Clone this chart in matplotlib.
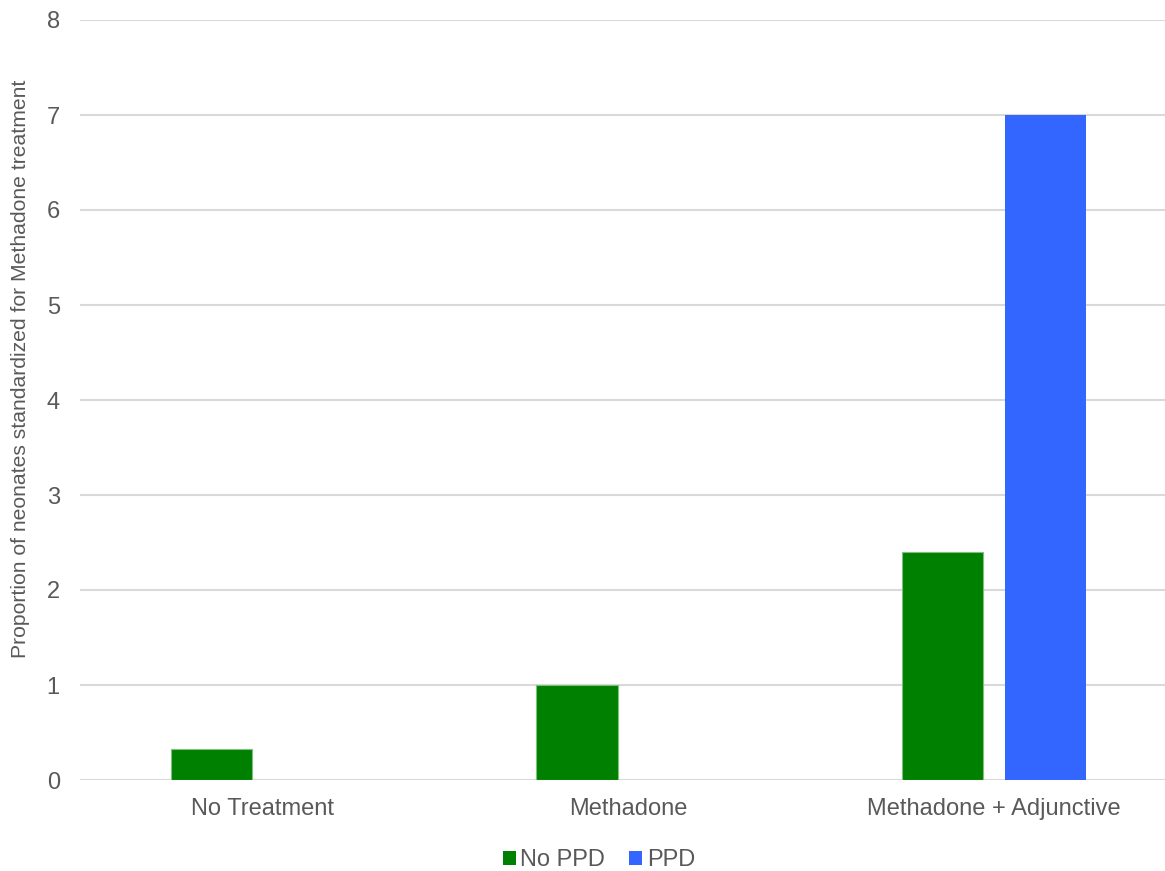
import matplotlib.pyplot as plt
import numpy as np
from matplotlib.patches import Patch

plt.rcParams['font.family'] = ['Liberation Sans', 'DejaVu Sans']

# ── Data ──────────────────────────────────────────────────────────────────────
categories = ["No Treatment", "Methadone", "Methadone + Adjunctive"]
no_ppd = [0.33, 1.0, 2.4]
ppd = [np.nan, np.nan, 7.0]
yticks = [0, 1, 2, 3, 4, 5, 6, 7, 8]

text_color = "#595959"
grid_color = "#d9d9d9"
green = "#008000"
blue = "#3366ff"

# ── Plot ──────────────────────────────────────────────────────────────────────
fig = plt.figure(figsize=(11.65, 8.71), dpi=100)
ax = fig.add_axes([80 / 1165, 91 / 871, 1097 / 1165, 760 / 871])

x = np.arange(len(categories))
w = 0.222
gap = 0.06
ax.bar(x - (w + gap) / 2, no_ppd, w, color=green, edgecolor="#7fc07f",
       linewidth=0.8, zorder=3)
ax.bar(x + (w + gap) / 2, ppd, w, color=blue, linewidth=0, zorder=3)

ax.set_xlim(-0.5, 2.5)
ax.set_ylim(0, 8)
ax.set_yticks(yticks)
ax.set_xticks(x)
ax.set_xticklabels(categories)
ax.tick_params(axis="y", length=0, pad=14.5, labelsize=17, labelcolor=text_color)
ax.tick_params(axis="x", length=0, pad=13, labelsize=17, labelcolor=text_color)
ax.yaxis.grid(True, color=grid_color, linewidth=1.5, zorder=0)
ax.set_axisbelow(True)
for s in ax.spines.values():
    s.set_visible(False)

fig.text(0.0176, (871 - 368.5) / 871, "Proportion of neonates standardized for Methadone treatment",
         rotation=90, ha="center", va="center", fontsize=15.2, color=text_color)

handles = [Patch(facecolor=green, label="No PPD"), Patch(facecolor=blue, label="PPD")]
fig.legend(handles=handles, loc="center", bbox_to_anchor=(0.514, 0.0125), ncol=2,
           frameon=False, fontsize=17, labelcolor=text_color, handlelength=0.55,
           handleheight=0.55, handletextpad=0.2, columnspacing=1.0)

plt.savefig("out.png", dpi=100)
